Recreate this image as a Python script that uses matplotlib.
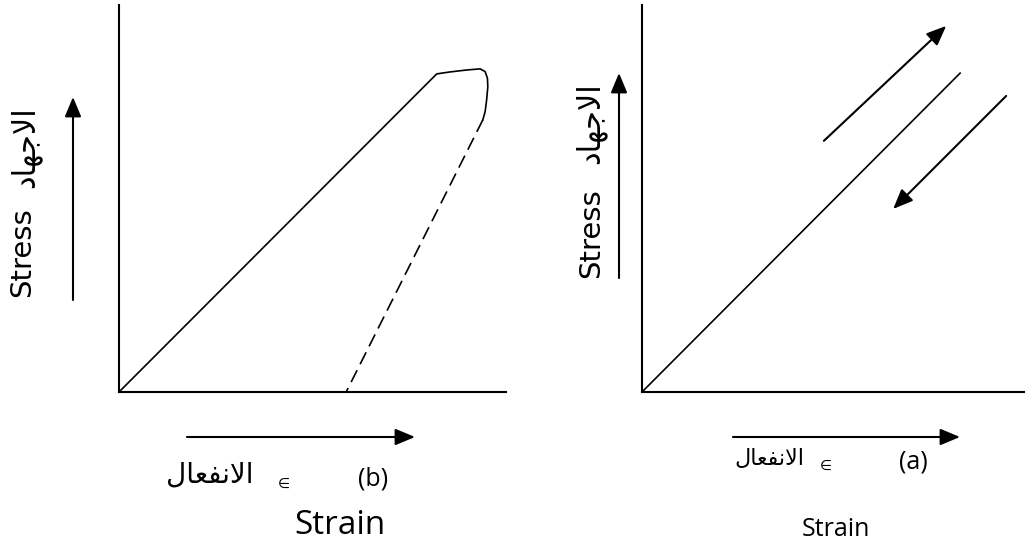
import matplotlib.pyplot as plt

plt.rcParams['font.family'] = ['Open Sans', 'DejaVu Sans']

# Arabic words written as presentation forms in visual (left-to-right) order,
# since matplotlib does no shaping
stress_ar = '\uFEA9\uFE8E\uFEEC\uFE9F\uFEFB\uFE8D'              # الاجهاد
strain_ar = '\uFEDD\uFE8E\uFECC\uFED4\uFEE7\uFEFB\uFE8D'        # الانفعال
panel_tags = ['(b)', '(a)']

# panel (b): loading up to the peak, rounded top, then elastic unloading
load_b_strain = [0, 82.1, 85.5, 89.8, 93.3, 94.6, 95.2, 95.3, 95.0, 94.6, 94.0]
load_b_stress = [0, 82.2, 82.7, 83.2, 83.5, 82.8, 81.1, 78.9, 75.5, 72.4, 70.3]
unload_b_strain = [94.0, 58.7]
unload_b_stress = [70.3, 0]

# panel (a): linear elastic line, loading and unloading arrows
line_a_strain = [0, 82.2]
line_a_stress = [0, 82.4]
up_arrow_a = [(47.0, 64.9), (78.6, 94.6)]
down_arrow_a = [(94.1, 76.5), (64.9, 47.3)]

fig = plt.figure(figsize=(10.25, 5.47), dpi=100)
fig.patch.set_facecolor('white')

# overlay in pixel units for the labels and the axis arrows
ov = fig.add_axes([0, 0, 1, 1])
ov.set_xlim(0, 1025)
ov.set_ylim(547, 0)
ov.axis('off')


def panel(left, width_px):
    ax = fig.add_axes([left / 1025, 155 / 547, width_px / 1025, 387 / 547])
    ax.set_xlim(0, width_px / 3.87)
    ax.set_ylim(0, 100)
    ax.set_facecolor('none')
    for s in ['top', 'right']:
        ax.spines[s].set_visible(False)
    for s in ['left', 'bottom']:
        ax.spines[s].set_linewidth(1.5)
    ax.set_xticks([])
    ax.set_yticks([])
    return ax


ax_b = panel(119, 387)
ax_a = panel(642, 383)

ax_b.plot(load_b_strain, load_b_stress, color='k', lw=1.2,
          solid_joinstyle='round')
ax_b.plot(unload_b_strain, unload_b_stress, color='k', lw=1.2,
          linestyle=(0, (8, 4)))

ax_a.plot(line_a_strain, line_a_stress, color='k', lw=1.2)
arrow_style = dict(arrowstyle='-|>,head_length=1.2,head_width=0.5',
                   mutation_scale=10, color='k', lw=1.5, shrinkA=0, shrinkB=0)
for start, end in [up_arrow_a, down_arrow_a]:
    ax_a.annotate('', xy=end, xytext=start, arrowprops=arrow_style,
                  annotation_clip=False)

# axis direction arrows
for x0, y0, x1, y1 in [(73, 300, 73, 97), (187, 437, 415, 437),
                       (619, 278, 619, 73), (733, 437, 960, 437)]:
    ov.annotate('', xy=(x1, y1), xytext=(x0, y0), arrowprops=arrow_style)

# vertical labels
ov.text(22, 252, 'Stress', rotation=90, fontsize=21, family='DejaVu Sans',
        ha='center', va='center')
ov.text(25, 147, stress_ar, rotation=90, fontsize=22, family='DejaVu Sans',
        ha='center', va='center')
ov.text(591, 233, 'Stress', rotation=90, fontsize=21, family='DejaVu Sans',
        ha='center', va='center')
ov.text(590, 123, stress_ar, rotation=90, fontsize=22, family='DejaVu Sans',
        ha='center', va='center')

# horizontal labels, panel (b)
ov.text(210, 475, strain_ar, fontsize=20, family='DejaVu Sans',
        ha='center', va='center')
ov.text(284, 484, '\u2208', fontsize=10, family='DejaVu Sans',
        ha='center', va='center')
ov.text(373, 479, panel_tags[0], fontsize=18, ha='center', va='center')
ov.text(340, 525, 'Strain', fontsize=24, ha='center', va='center')

# horizontal labels, panel (a)
ov.text(769, 459, strain_ar, fontsize=16, family='DejaVu Sans',
        ha='center', va='center')
ov.text(826, 466, '\u2208', fontsize=10, family='DejaVu Sans',
        ha='center', va='center')
ov.text(913, 462, panel_tags[1], fontsize=18, ha='center', va='center')
ov.text(836, 530, 'Strain', fontsize=18, ha='center', va='center')

fig.savefig('out.png', dpi=100)
